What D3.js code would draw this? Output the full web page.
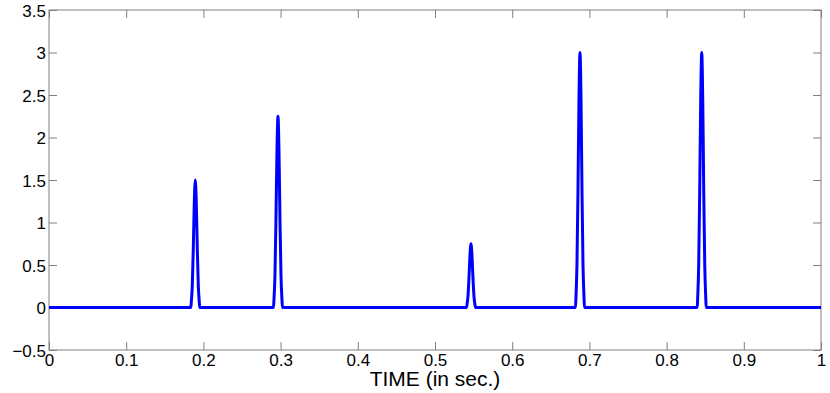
<!DOCTYPE html>
<html>
<head>
<meta charset="utf-8">
<script src="https://cdn.jsdelivr.net/npm/d3@7"></script>
<style>
  body { margin: 0; background: #fff; }
  svg text { font-family: "Liberation Sans", Arial, Helvetica, sans-serif; fill: #000; }
</style>
</head>
<body>
<div id="chart"></div>
<script>
// signal samples (time in sec, amplitude)
const timeValues = [
    0,
    0.1837, 0.1843, 0.1856, 0.1869, 0.1882, 0.1895, 0.1908, 0.1921, 0.1934, 0.1947, 0.1953,
    0.2908, 0.2914, 0.2927, 0.2940, 0.2953, 0.2966, 0.2979, 0.2992, 0.3005, 0.3018, 0.3024,
    0.5408, 0.5414, 0.5427, 0.5440, 0.5453, 0.5466, 0.5479, 0.5492, 0.5505, 0.5518, 0.5524,
    0.6820, 0.6826, 0.6839, 0.6852, 0.6865, 0.6878, 0.6891, 0.6904, 0.6917, 0.6930, 0.6936,
    0.8397, 0.8403, 0.8416, 0.8429, 0.8442, 0.8455, 0.8468, 0.8481, 0.8494, 0.8507, 0.8513,
    1
];
const signalValues = [
    0,
    0, 0.06, 0.255, 0.69, 1.23, 1.5, 1.23, 0.69, 0.255, 0.06, 0,
    0, 0.09, 0.38, 1.035, 1.845, 2.25, 1.845, 1.035, 0.38, 0.09, 0,
    0, 0.03, 0.13, 0.345, 0.615, 0.75, 0.615, 0.345, 0.13, 0.03, 0,
    0, 0.12, 0.51, 1.38, 2.46, 3, 2.46, 1.38, 0.51, 0.12, 0,
    0, 0.12, 0.51, 1.38, 2.46, 3, 2.46, 1.38, 0.51, 0.12, 0,
    0
];
const xTicks = [0, 0.1, 0.2, 0.3, 0.4, 0.5, 0.6, 0.7, 0.8, 0.9, 1];
const yTicks = [-0.5, 0, 0.5, 1, 1.5, 2, 2.5, 3, 3.5];
const xLabel = "TIME (in sec.)";

const W = 830, H = 393;
const margin = {top: 10, right: 9, bottom: 43, left: 49};
const width = W - margin.left - margin.right;
const height = H - margin.top - margin.bottom;

const svg = d3.select("#chart").append("svg")
    .attr("width", W)
    .attr("height", H)
    .append("g")
    .attr("transform", "translate(" + margin.left + "," + margin.top + ")");

const x = d3.scaleLinear().domain([0, 1]).range([0, width]);
const y = d3.scaleLinear().domain([-0.5, 3.5]).range([height, 0]);

const fmt = d3.format("");
const axisColor = "#808080";
const tickLen = 8;

// box
svg.append("rect")
    .attr("x", 0).attr("y", 0)
    .attr("width", width).attr("height", height)
    .attr("fill", "none")
    .attr("stroke", axisColor)
    .attr("stroke-width", 1);

// inward ticks on all four sides
function styleAxis(g) {
    g.select(".domain").remove();
    g.selectAll(".tick line").attr("stroke", axisColor);
    g.selectAll(".tick text").attr("font-size", 17);
}

svg.append("g")
    .attr("transform", "translate(0," + height + ")")
    .call(d3.axisBottom(x).tickValues(xTicks).tickSize(-tickLen).tickPadding(5).tickFormat(fmt))
    .call(styleAxis)
    .selectAll(".tick text").attr("dy", "0.66em");

svg.append("g")
    .call(d3.axisTop(x).tickValues(xTicks).tickSize(-tickLen).tickFormat(""))
    .call(styleAxis);

svg.append("g")
    .call(d3.axisLeft(y).tickValues(yTicks).tickSize(-tickLen).tickPadding(3).tickFormat(fmt))
    .call(styleAxis)
    .selectAll(".tick text").attr("dy", "0.36em");

svg.append("g")
    .attr("transform", "translate(" + width + ",0)")
    .call(d3.axisRight(y).tickValues(yTicks).tickSize(-tickLen).tickFormat(""))
    .call(styleAxis);

// signal
const data = timeValues.map((t, i) => ({t: t, v: signalValues[i]}));
svg.append("path")
    .datum(data)
    .attr("fill", "none")
    .attr("stroke", "#0000ff")
    .attr("stroke-width", 3)
    .attr("stroke-linejoin", "round")
    .attr("d", d3.line()
        .x(d => x(d.t))
        .y(d => y(d.v))
        .curve(d3.curveMonotoneX)
    );

// x label
svg.append("text")
    .attr("x", width / 2)
    .attr("y", height + 36)
    .attr("text-anchor", "middle")
    .attr("font-size", 21)
    .text(xLabel);
</script>
</body>
</html>
